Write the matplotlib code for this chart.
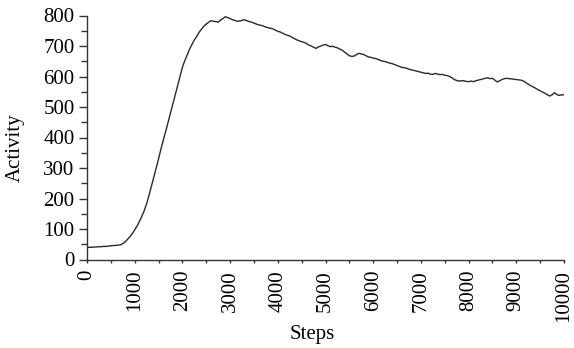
import matplotlib
matplotlib.use("Agg")
import matplotlib.pyplot as plt
from matplotlib.ticker import MultipleLocator

steps = list(range(0, 10001, 50))
activity = [
    # 0 - 950
    40, 40, 40, 41, 41, 42, 42, 43, 43, 44, 45, 46, 46, 47, 48, 52, 58, 66, 75, 85,
    # 1000 - 1950
    97, 110, 125, 142, 160, 183, 210, 240, 270, 300, 330, 362, 392, 420, 450, 480, 510, 540, 570, 600,
    # 2000 - 2950
    630, 652, 670, 690, 705, 720, 731, 745, 755, 765, 772, 778, 783, 781, 780, 778, 785, 790, 796, 793,
    # 3000 - 3950
    790, 786, 784, 781, 782, 784, 786, 783, 780, 778, 775, 772, 769, 768, 765, 762, 760, 758, 756, 752,
    # 4000 - 4950
    748, 746, 742, 738, 735, 733, 728, 724, 720, 717, 714, 712, 708, 703, 700, 696, 692, 697, 700, 703,
    # 5000 - 5950
    705, 701, 698, 699, 696, 694, 690, 686, 680, 674, 668, 666, 667, 672, 676, 674, 672, 668, 664, 663,
    # 6000 - 6950
    660, 659, 656, 653, 650, 649, 646, 644, 642, 639, 636, 633, 630, 629, 627, 624, 622, 620, 618, 616,
    # 7000 - 7950
    614, 612, 610, 611, 608, 607, 610, 608, 606, 607, 604, 603, 600, 596, 590, 587, 585, 586, 586, 584,
    # 8000 - 8950
    583, 585, 583, 586, 588, 590, 592, 594, 596, 593, 594, 588, 582, 586, 590, 593, 594, 593, 592, 591,
    # 9000 - 9950
    590, 589, 588, 585, 580, 575, 570, 566, 562, 557, 553, 549, 545, 540, 536, 540, 547, 541, 538, 540,
    # 10000
    540,
]
x_ticks = list(range(0, 10001, 1000))
y_ticks = list(range(0, 801, 100))

plt.rcParams['font.family'] = ['Liberation Serif', 'DejaVu Serif']

fig = plt.figure(figsize=(5.74, 3.48), dpi=100)
ax = fig.add_axes([87/574, 88.5/348, 477/574, 244/348])
ax.plot(steps, activity, color='#2a2a2a', lw=1.0)

ax.set_xlim(0, 10000)
ax.set_ylim(0, 800)
ax.set_xticks(x_ticks)
ax.set_yticks(y_ticks)
ax.set_xticklabels([str(t) for t in x_ticks], rotation=90, va='top')
ax.xaxis.set_minor_locator(MultipleLocator(500))
ax.yaxis.set_minor_locator(MultipleLocator(50))

for s in ['top', 'right']:
    ax.spines[s].set_visible(False)
for s in ['left', 'bottom']:
    ax.spines[s].set_color('#333333')
    ax.spines[s].set_linewidth(1.0)

ax.tick_params(axis='y', which='major', direction='out', length=6, width=1.0,
               color='#333333', labelsize=15, pad=3)
ax.tick_params(axis='y', which='minor', direction='out', length=4, width=1.0,
               color='#333333')
ax.tick_params(axis='x', which='major', direction='out', length=2.5, width=1.0,
               color='#333333', labelsize=15, pad=5)
ax.tick_params(axis='x', which='minor', direction='out', length=2.5, width=1.0,
               color='#333333')

ax.set_xlabel('Steps', fontsize=15)
ax.set_ylabel('Activity', fontsize=15)
ax.xaxis.set_label_coords(0.473, -0.309)
ax.yaxis.set_label_coords(-0.151, 0.457)
ax.xaxis.label.set_va('center')
ax.yaxis.label.set_va('center')

fig.savefig('out.png', dpi=100)
